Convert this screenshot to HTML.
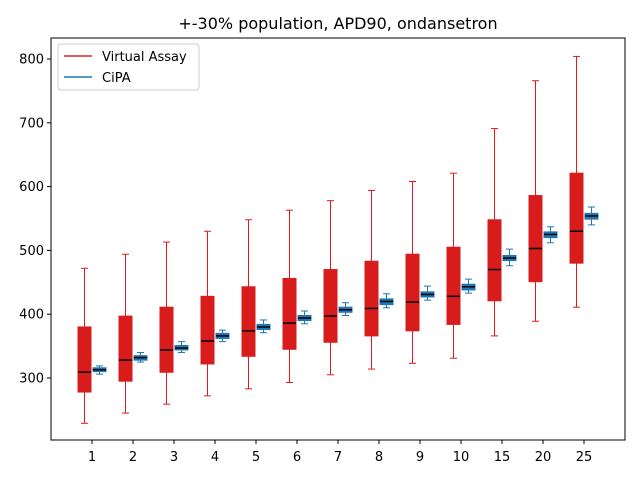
<!DOCTYPE html>
<html><head><meta charset="utf-8"><style>
body{margin:0;background:#fff;font-family:"Liberation Sans","DejaVu Sans",sans-serif}
svg text{font-family:"DejaVu Sans","Liberation Sans",sans-serif}
</style></head><body>
<svg id="chart" width="640" height="480" xmlns="http://www.w3.org/2000/svg">
<rect width="640" height="480" fill="#fff"/>
<text x="338" y="29" text-anchor="middle" font-size="16">+-30% population, APD90, ondansetron</text>
<g id="marks"></g>
<rect x="51" y="38" width="574" height="402" fill="none" stroke="#000" stroke-width="1"/>
<g id="axes"></g>
<g>
<rect x="58" y="44" width="141" height="46" rx="3" fill="#fff" fill-opacity="0.8" stroke="#ccc"/>
<line x1="64" y1="56" x2="92" y2="56" stroke="#d62728" stroke-width="1.5"/>
<text x="102" y="61" font-size="13">Virtual Assay</text>
<line x1="64" y1="77" x2="92" y2="77" stroke="#1f77b4" stroke-width="1.5"/>
<text x="102" y="82" font-size="13">CiPA</text>
</g>
</svg>
<script>
const categories=["1","2","3","4","5","6","7","8","9","10","15","20","25"];
const vaLow=[229,245,259,272,283,293,305,314,323,331,366,389,411];
const vaQ1=[278,295,309,322,334,345,356,366,374,384,421,451,480];
const vaMed=[309,328,344,358,374,386,397,409,419,428,470,503,530];
const vaQ3=[380,397,411,428,443,456,470,483,494,505,548,586,621];
const vaHigh=[472,494,513,530,548,563,578,594,608,621,691,766,804];
const cipaLow=[306,325,340,357,371,385,398,410,422,433,476,512,540];
const cipaQ1=[310,328,344,362,376,390,403,415,427,438,484,520,549];
const cipaMed=[313,332,347,366,380,394,407,420,431,443,488,525,554];
const cipaQ3=[316,335,351,370,384,398,411,424,435,447,492,529,558];
const cipaHigh=[319,340,357,375,391,405,418,432,444,455,502,537,568];
const yTicks=[300,400,500,600,700,800];
const NS="http://www.w3.org/2000/svg";
function y(v){return 378-(v-300)*0.638;}
function x(i){return 92+i*41;}
const marks=document.getElementById('marks'),axes=document.getElementById('axes');
function mk(p,tag,a){const e=document.createElementNS(NS,tag);for(const k in a)e.setAttribute(k,a[k]);p.appendChild(e);return e;}
function box(i,off,lo,q1,md,q3,hi,color,fill,name){
  const g=mk(marks,'g',{});
  
  
  const cx=x(i)+off;
  mk(g,'line',{x1:cx,x2:cx,y1:y(hi),y2:y(q3),stroke:color,'stroke-width':1});
  mk(g,'line',{x1:cx,x2:cx,y1:y(q1),y2:y(lo),stroke:color,'stroke-width':1});
  mk(g,'line',{x1:cx-3.5,x2:cx+3.5,y1:y(hi),y2:y(hi),stroke:color,'stroke-width':1});
  mk(g,'line',{x1:cx-3.5,x2:cx+3.5,y1:y(lo),y2:y(lo),stroke:color,'stroke-width':1});
  mk(g,'rect',{x:cx-6.5,y:y(q3),width:13,height:Math.max(1,y(q1)-y(q3)),fill:fill,stroke:fill});
  mk(g,'line',{x1:cx-6.5,x2:cx+6.5,y1:y(md),y2:y(md),stroke:'#000','stroke-width':1.5});
}
categories.forEach((c,i)=>{
  box(i,-7.5,vaLow[i],vaQ1[i],vaMed[i],vaQ3[i],vaHigh[i],'#e31a1c','#d81c1c','virtual-assay-box-'+c);
  box(i,7.5,cipaLow[i],cipaQ1[i],cipaMed[i],cipaQ3[i],cipaHigh[i],'#1f77b4','#1f77b4','cipa-box-'+c);
  mk(axes,'line',{x1:x(i),x2:x(i),y1:440,y2:444,stroke:'#000'});
  const t=mk(axes,'text',{x:x(i),y:461,'text-anchor':'middle','font-size':13});
  
  
  t.textContent=c;
});
yTicks.forEach(v=>{
  mk(axes,'line',{x1:47,x2:51,y1:y(v),y2:y(v),stroke:'#000'});
  const t=mk(axes,'text',{x:44,y:y(v)+4.5,'text-anchor':'end','font-size':13});
  
  
  t.textContent=v;
});
</script>
</body></html>
